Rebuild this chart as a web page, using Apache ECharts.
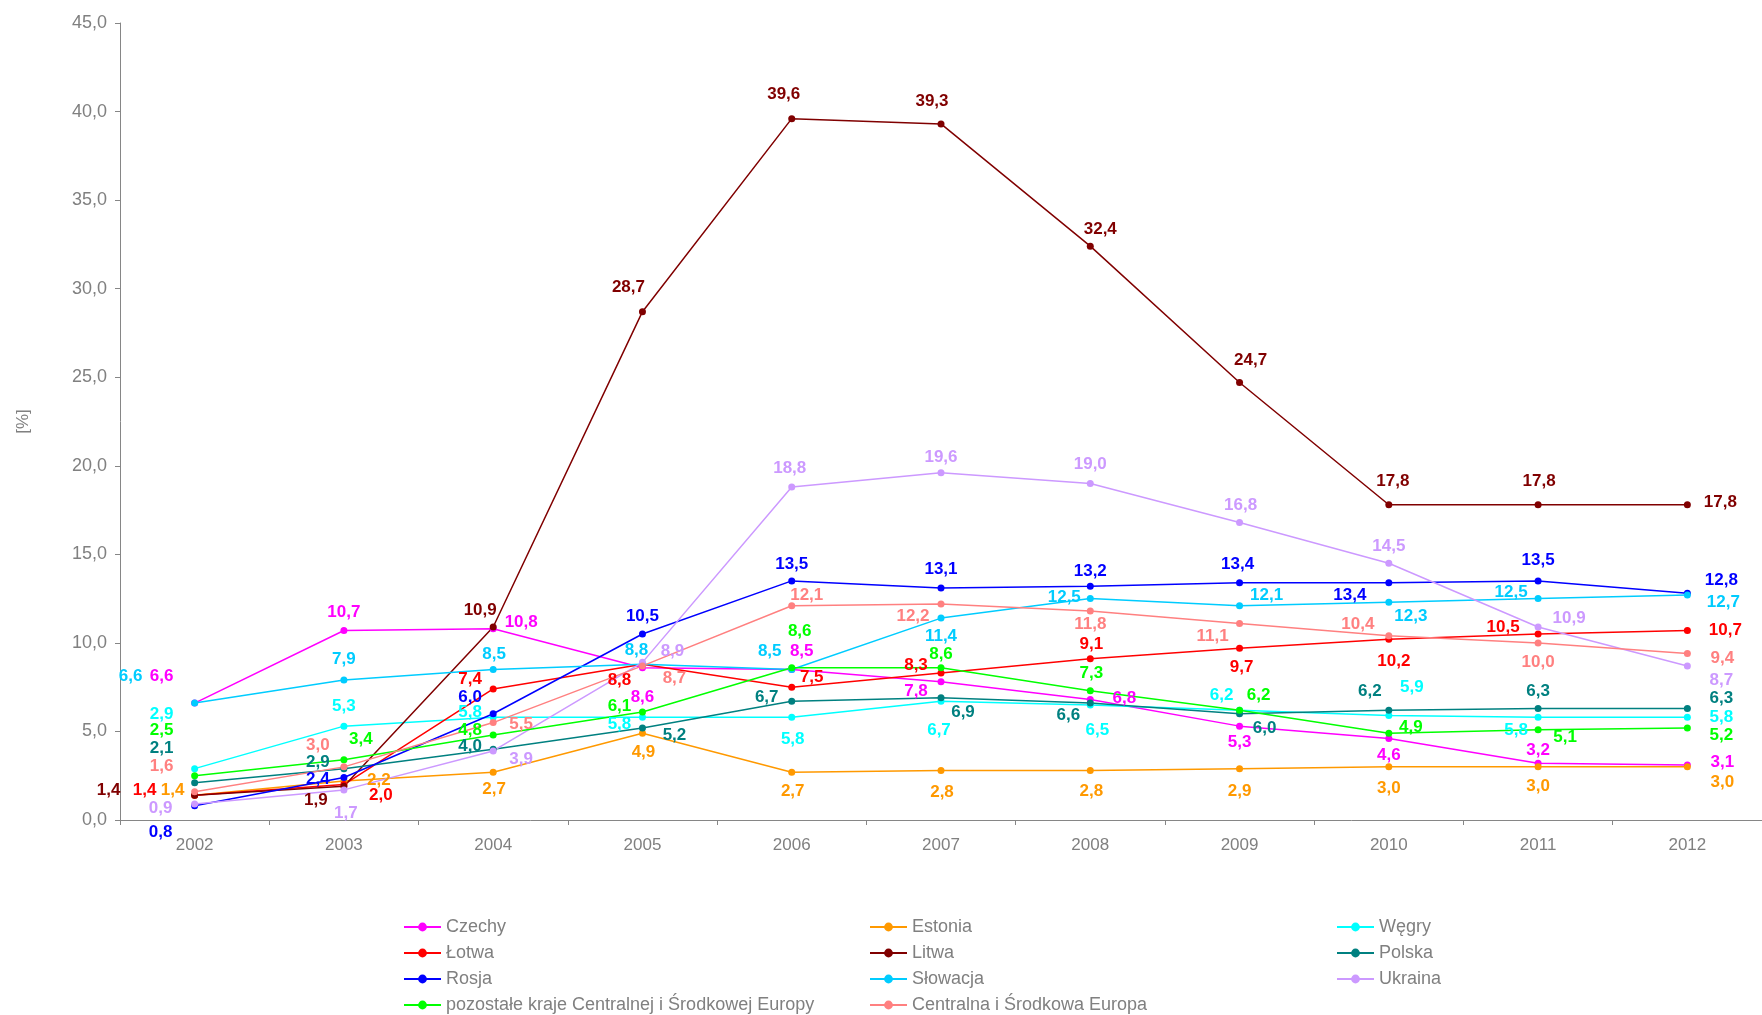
<!DOCTYPE html>
<html>
<head>
<meta charset="utf-8">
<script src="https://cdn.jsdelivr.net/npm/echarts@6/dist/echarts.min.js"></script>
<style>
  html, body { margin: 0; padding: 0; background: #fff; }
  #chart { width: 1762px; height: 1015px; }
</style>
</head>
<body>
<div id="chart"></div>
<script>
const years = ['2002', '2003', '2004', '2005', '2006', '2007', '2008', '2009', '2010', '2011', '2012']

const czechy = [6.6, 10.7, 10.8, 8.6, 8.5, 7.8, 6.8, 5.3, 4.6, 3.2, 3.1]
const estonia = [1.4, 2.2, 2.7, 4.9, 2.7, 2.8, 2.8, 2.9, 3.0, 3.0, 3.0]
const wegry = [2.9, 5.3, 5.8, 5.8, 5.8, 6.7, 6.5, 6.2, 5.9, 5.8, 5.8]
const lotwa = [1.4, 2.0, 7.4, 8.8, 7.5, 8.3, 9.1, 9.7, 10.2, 10.5, 10.7]
const litwa = [1.4, 1.9, 10.9, 28.7, 39.6, 39.3, 32.4, 24.7, 17.8, 17.8, 17.8]
const polska = [2.1, 2.9, 4.0, 5.2, 6.7, 6.9, 6.6, 6.0, 6.2, 6.3, 6.3]
const rosja = [0.8, 2.4, 6.0, 10.5, 13.5, 13.1, 13.2, 13.4, 13.4, 13.5, 12.8]
const slowacja = [6.6, 7.9, 8.5, 8.8, 8.5, 11.4, 12.5, 12.1, 12.3, 12.5, 12.7]
const ukraina = [0.9, 1.7, 3.9, 8.9, 18.8, 19.6, 19.0, 16.8, 14.5, 10.9, 8.7]
const pozostale = [2.5, 3.4, 4.8, 6.1, 8.6, 8.6, 7.3, 6.2, 4.9, 5.1, 5.2]
const centralna = [1.6, 3.0, 5.5, 8.7, 12.1, 12.2, 11.8, 11.1, 10.4, 10.0, 9.4]

const yTicks = { min: 0, max: 45, interval: 5 }

// series in drawing order (last one on top)
const seriesDefs = [
  { name: 'Czechy', data: czechy, color: '#FF00FF' },
  { name: 'Estonia', data: estonia, color: '#FF9900' },
  { name: 'Węgry', data: wegry, color: '#00FFFF' },
  { name: 'Łotwa', data: lotwa, color: '#FF0000' },
  { name: 'Litwa', data: litwa, color: '#800000' },
  { name: 'Polska', data: polska, color: '#008080' },
  { name: 'Rosja', data: rosja, color: '#0000FF' },
  { name: 'Słowacja', data: slowacja, color: '#00CCFF' },
  { name: 'Ukraina', data: ukraina, color: '#CC99FF' },
  { name: 'pozostałe kraje Centralnej i Środkowej Europy', data: pozostale, color: '#00FF00' },
  { name: 'Centralna i Środkowa Europa', data: centralna, color: '#FF8080' }
]

// data label offsets [dx, dy] from each point (hand placed like in the original)
const labelOffsets = {
  'Czechy': [[-33, -27], [0, -18], [28, -6], [0, 30], [10, -18], [-25, 9], [34, -1], [0, 16], [0, 17], [0, -13], [35, -3]],
  'Estonia': [[-22, -5], [35, -1], [1, 17], [1, 19], [1, 19], [1, 22], [1, 21], [0, 23], [0, 21], [0, 19], [35, 15]],
  'Węgry': [[-33, -54], [0, -20], [-23, -5], [-23, 7], [1, 22], [-2, 29], [7, 25], [-18, -15], [23, -28], [-22, 13], [34, 0]],
  'Łotwa': [[-50, -5], [37, 11], [-23, -10], [-23, 16], [20, -10], [-25, -8], [1, -15], [2, 19], [5, 22], [-35, -7], [38, 0]],
  'Litwa': [[-86, -5], [-28, 14], [-13, -17], [-14, -24], [-8, -24], [-9, -23], [10, -17], [11, -22], [4, -23], [1, -23], [33, -2]],
  'Polska': [[-33, -34], [-26, -6], [-23, -3], [32, 7], [-25, -4], [22, 15], [-22, 12], [25, 15], [-19, -19], [0, -17], [34, -10]],
  'Rosja': [[-34, 26], [-26, 2], [-23, -16], [0, -18], [0, -17], [0, -19], [0, -15], [-2, -18], [-39, 13], [0, -21], [34, -13]],
  'Słowacja': [[-64, -27], [0, -21], [1, -15], [-6, -14], [-22, -18], [0, 18], [-26, -1], [27, -10], [22, 14], [-27, -6], [36, 7]],
  'Ukraina': [[-34, 4], [2, 23], [28, 8], [30, -11], [-2, -19], [0, -16], [0, -19], [1, -17], [0, -17], [31, -9], [34, 14]],
  'pozostałe kraje Centralnej i Środkowej Europy': [[-33, -45], [17, -20], [-23, -5], [-23, -6], [8, -36], [0, -13], [1, -17], [19, -15], [22, -6], [27, 8], [34, 7]],
  'Centralna i Środkowa Europa': [[-33, -25], [-26, -22], [28, 2], [32, 12], [15, -10], [-28, 12], [0, 13], [-27, 13], [-31, -11], [0, 19], [35, 5]]
}

const legendCols = [
  ['Czechy', 'Łotwa', 'Rosja', 'pozostałe kraje Centralnej i Środkowej Europy'],
  ['Estonia', 'Litwa', 'Słowacja', 'Centralna i Środkowa Europa'],
  ['Węgry', 'Polska', 'Ukraina']
]
const legendLeft = [403, 869, 1336]

const FONT = "'Liberation Sans', Arial, sans-serif"
const GREY = '#808080'
const AXIS = '#868686'

const fmt = v => v.toFixed(1).replace('.', ',')

const chart = echarts.init(document.getElementById('chart'))

const option = {
  animation: false,
  backgroundColor: '#fff',
  textStyle: { fontFamily: FONT },
  grid: {
    left: 120,
    top: 23,
    width: 1654,
    height: 797,
    containLabel: false
  },
  legend: legendCols.map((col, i) => ({
    data: col,
    orient: 'vertical',
    left: legendLeft[i],
    top: 918,
    height: 130,
    itemWidth: 37,
    itemHeight: 11,
    itemGap: 8,
    padding: 0,
    textStyle: {
      color: GREY,
      fontSize: 18,
      lineHeight: 18,
      fontFamily: FONT
    }
  })),
  xAxis: {
    type: 'category',
    data: years,
    boundaryGap: true,
    axisLine: { lineStyle: { color: AXIS, width: 1 } },
    axisTick: { show: true, length: 5, lineStyle: { color: AXIS } },
    axisLabel: {
      color: GREY,
      fontSize: 17,
      margin: 17,
      fontFamily: FONT
    },
    splitLine: { show: false }
  },
  yAxis: {
    type: 'value',
    min: yTicks.min,
    max: yTicks.max,
    interval: yTicks.interval,
    name: '[%]',
    nameLocation: 'middle',
    nameGap: 88,
    nameTextStyle: { color: GREY, fontSize: 17, fontFamily: FONT },
    axisLine: { show: true, lineStyle: { color: AXIS, width: 1 } },
    axisTick: { show: true, length: 5, lineStyle: { color: AXIS } },
    axisLabel: {
      color: GREY,
      fontSize: 18,
      margin: 13,
      fontFamily: FONT,
      formatter: v => fmt(v)
    },
    splitLine: { show: false }
  },
  series: seriesDefs.map(s => ({
    name: s.name,
    type: 'line',
    symbol: 'circle',
    symbolSize: 7,
    showAllSymbol: true,
    color: s.color,
    itemStyle: { color: s.color },
    lineStyle: { color: s.color, width: 1.5 },
    emphasis: { disabled: true },
    data: s.data.map((v, i) => ({
      value: v,
      label: {
        offset: labelOffsets[s.name][i]
      }
    })),
    label: {
      show: true,
      position: 'inside',
      color: s.color,
      fontSize: 17,
      fontWeight: 'bold',
      fontFamily: FONT,
      formatter: p => fmt(p.value)
    }
  }))
}

chart.setOption(option)
</script>
</body>
</html>
